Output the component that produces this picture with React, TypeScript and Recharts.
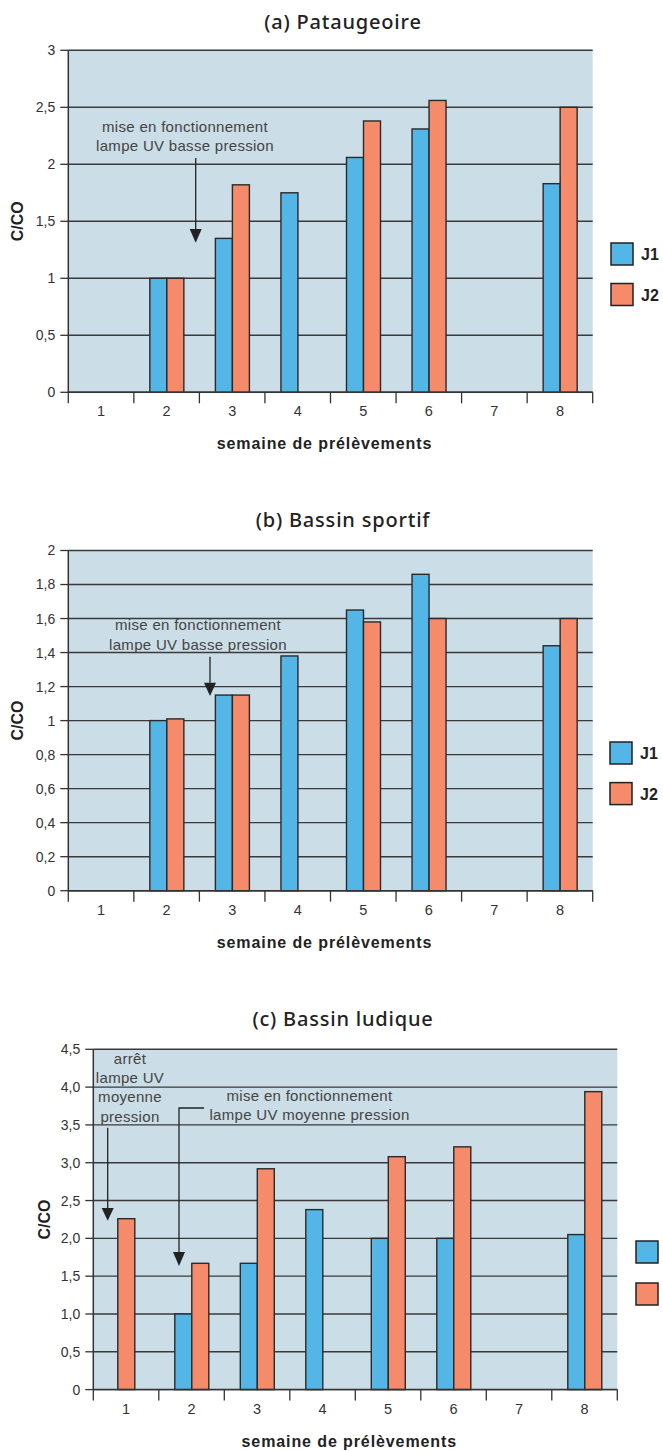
import React from 'react';
import { BarChart, Bar, XAxis, YAxis, CartesianGrid, Legend, Customized } from 'recharts';

// ---------- data ----------
const weeks = ['1', '2', '3', '4', '5', '6', '7', '8'];
const seriesNames = ['J1', 'J2'];
const seriesColors = ['#54b6e6', '#f58b6b'];

const pataugeoireJ1 = [null, 1.0, 1.35, 1.75, 2.06, 2.31, null, 1.83];
const pataugeoireJ2 = [null, 1.0, 1.82, null, 2.38, 2.56, null, 2.5];

const sportifJ1 = [null, 1.0, 1.15, 1.38, 1.65, 1.86, null, 1.44];
const sportifJ2 = [null, 1.01, 1.15, null, 1.58, 1.6, null, 1.6];

const ludiqueJ1 = [null, 1.0, 1.67, 2.38, 2.0, 2.0, null, 2.05];
const ludiqueJ2 = [2.26, 1.67, 2.92, null, 3.08, 3.21, null, 3.94];

const ticksA = [0, 0.5, 1, 1.5, 2, 2.5, 3];
const ticksB = [0, 0.2, 0.4, 0.6, 0.8, 1, 1.2, 1.4, 1.6, 1.8, 2];
const ticksC = [0, 0.5, 1, 1.5, 2, 2.5, 3, 3.5, 4, 4.5];

const titleA = '(a) Pataugeoire';
const titleB = '(b) Bassin sportif';
const titleC = '(c) Bassin ludique';
const xLabel = 'semaine de prélèvements';
const yLabel = 'C/CO';
const noteLow = ['mise en fonctionnement', 'lampe UV basse pression'];
const noteStop = ['arrêt', 'lampe UV', 'moyenne', 'pression'];
const noteMid = ['mise en fonctionnement', 'lampe UV moyenne pression'];

const build = (j1: (number | null)[], j2: (number | null)[]) =>
  weeks.map((w, i) => ({ week: w, [seriesNames[0]]: j1[i], [seriesNames[1]]: j2[i] }));

const dataA = build(pataugeoireJ1, pataugeoireJ2);
const dataB = build(sportifJ1, sportifJ2);
const dataC = build(ludiqueJ1, ludiqueJ2);

const fmtPlain = (v: number) => String(v).replace('.', ',');
const fmtFixed = (v: number) => (v === 0 ? '0' : v.toFixed(1).replace('.', ','));

// ---------- styles ----------
const W = 663;
const XAXIS_H = 40;
const TICK_FONT = '"Liberation Sans", Arial, sans-serif';
const NOTE_FONT = '"Liberation Sans", Arial, sans-serif';
const TITLE_FONT = '"Noto Sans", "Open Sans", sans-serif';
const INK = '#333';
const GRID = '#3a3a3a';
const PLOT_BG = '#cbdde6';
const BAR_STROKE = '#2a2a2a';

// ---------- pieces ----------
function WeekTick(props: any) {
  const { x, y, payload, index, band, count } = props;
  const half = payload && typeof payload.offset === 'number' && payload.offset > 0 ? payload.offset : band / 2;
  return (
    <g>
      <line x1={x - half} x2={x - half} y1={y} y2={y + 11} stroke={INK} strokeWidth={1.3} />
      {index === count - 1 && (
        <line x1={x + half} x2={x + half} y1={y} y2={y + 11} stroke={INK} strokeWidth={1.3} />
      )}
      <text x={x} y={y + 24} textAnchor="middle" fontFamily={TICK_FONT} fontSize={14.5} fill={INK}>
        {payload.value}
      </text>
    </g>
  );
}

const makeShape = (key: string, other: string, fill: string, centerWhenAlone: boolean) => (props: any) => {
  const { x, y, width, height, payload } = props;
  if (!payload || payload[key] == null || !isFinite(height) || !isFinite(y)) return <g />;
  const dx = centerWhenAlone && payload[other] == null ? -width / 2 : 0;
  return (
    <rect x={x + dx} y={y} width={width} height={height} fill={fill} stroke={BAR_STROKE} strokeWidth={1.4} />
  );
};

function LegendBox(props: any) {
  const { payload, step, showText } = props;
  const items = (payload || []).filter((p: any) => p.type !== 'none');
  return (
    <svg width={60} height={step * 2 + 10} style={{ overflow: 'visible', display: 'block' }}>
      {items.map((p: any, i: number) => (
        <g key={p.value}>
          <rect x={1} y={1 + i * step} width={22} height={22} fill={p.color} stroke="#222" strokeWidth={1.5} />
          {showText && (
            <text x={31} y={18 + i * step} fontFamily={TICK_FONT} fontWeight="bold" fontSize={16} fill="#222">
              {p.value}
            </text>
          )}
        </g>
      ))}
    </svg>
  );
}

function ArrowDown({ points, tipY }: { points: [number, number][]; tipY: number }) {
  const last = points[points.length - 1];
  const pts = points.map((p) => p.join(',')).join(' ');
  return (
    <g>
      <polyline points={pts} fill="none" stroke="#222" strokeWidth={1.3} />
      <polygon points={`${last[0] - 6},${last[1]} ${last[0] + 6},${last[1]} ${last[0]},${tipY}`} fill="#222" />
    </g>
  );
}

function NoteLines({ lines, x, y0, step }: { lines: string[]; x: number; y0: number; step: number }) {
  return (
    <g>
      {lines.map((l, i) => (
        <text
          key={i}
          x={x}
          y={y0 + i * step}
          textAnchor="middle"
          fontFamily={NOTE_FONT}
          fontSize={15}
          letterSpacing={0.3}
          fill="#444"
        >
          {l}
        </text>
      ))}
    </g>
  );
}

type PanelCfg = {
  top: number;
  height: number;
  plotLeft: number;
  plotRight: number;
  plotTop: number;
  plotBottom: number;
  data: any[];
  ticks: number[];
  fmt: (v: number) => string;
  title: string;
  titleY: number;
  xLabelY: number;
  yLabelX: number;
  legendLeft: number;
  legendTop: number;
  legendStep: number;
  legendText: boolean;
  notes: React.ReactNode;
};

function Overlay({ c }: { c: PanelCfg }) {
  const cx = (c.plotLeft + c.plotRight) / 2;
  const cy = (c.plotTop + c.plotBottom) / 2;
  return (
    <g>
      <text
        x={343}
        y={c.titleY}
        textAnchor="middle"
        fontFamily={TITLE_FONT}
        fontWeight={500}
        fontSize={20}
        letterSpacing={0.8}
        fill="#222"
      >
        {c.title}
      </text>
      <text
        x={cx - 6}
        y={c.xLabelY}
        textAnchor="middle"
        fontFamily={TICK_FONT}
        fontWeight="bold"
        fontSize={16}
        letterSpacing={0.9}
        fill="#222"
      >
        {xLabel}
      </text>
      <text
        transform={`translate(${c.yLabelX}, ${cy}) rotate(-90)`}
        textAnchor="middle"
        dominantBaseline="central"
        fontFamily={TICK_FONT}
        fontWeight="bold"
        fontSize={16}
        fill="#222"
      >
        {yLabel}
      </text>
      {c.notes}
    </g>
  );
}

function Panel({ c }: { c: PanelCfg }) {
  const margin = {
    top: c.plotTop,
    left: 0,
    right: W - c.plotRight,
    bottom: c.height - c.plotBottom - XAXIS_H,
  };
  const max = c.ticks[c.ticks.length - 1];
  return (
    <div style={{ position: 'absolute', left: 0, top: c.top, width: W, height: c.height }}>
      <BarChart width={W} height={c.height} data={c.data} margin={margin} barGap={0} barSize={17}>
        <CartesianGrid vertical={false} stroke={GRID} strokeWidth={1.4} fill={PLOT_BG} fillOpacity={1} />
        <XAxis
          dataKey="week"
          height={XAXIS_H}
          interval={0}
          tickLine={false}
          tickSize={0}
          tickMargin={0}
          axisLine={{ stroke: INK, strokeWidth: 1.5 }}
          tick={<WeekTick band={(c.plotRight - c.plotLeft) / weeks.length} count={weeks.length} />}
        />
        <YAxis
          width={c.plotLeft}
          domain={[0, max]}
          ticks={c.ticks}
          interval={0}
          tickFormatter={c.fmt}
          tickSize={8}
          tickMargin={5}
          tickLine={{ stroke: INK, strokeWidth: 1.3 }}
          axisLine={{ stroke: INK, strokeWidth: 1.5 }}
          tick={{ fontFamily: TICK_FONT, fontSize: 14, fill: INK }}
        />
        <YAxis
          yAxisId="frame"
          orientation="right"
          width={0}
          domain={[0, 1]}
          tick={false}
          tickLine={false}
          axisLine={{ stroke: '#555', strokeWidth: 1.5 }}
        />
        {seriesNames.map((s, i) => (
          <Bar
            key={s}
            dataKey={s}
            name={s}
            fill={seriesColors[i]}
            isAnimationActive={false}
            shape={makeShape(s, seriesNames[1 - i], seriesColors[i], i === 1)}
          />
        ))}
        <Legend
          layout="horizontal"
          verticalAlign="middle"
          align="center"
          wrapperStyle={{ left: c.legendLeft, top: c.legendTop, width: 60, height: c.legendStep * 2 + 10 }}
          content={(p: any) => <LegendBox payload={p.payload} step={c.legendStep} showText={c.legendText} />}
        />
        <Customized component={<Overlay c={c} />} />
      </BarChart>
    </div>
  );
}

const cfgA: PanelCfg = {
  top: 0,
  height: 470,
  plotLeft: 68.3,
  plotRight: 592.7,
  plotTop: 50.3,
  plotBottom: 392.3,
  data: dataA,
  ticks: ticksA,
  fmt: fmtPlain,
  title: titleA,
  titleY: 29,
  xLabelY: 449,
  yLabelX: 17.5,
  legendLeft: 609.5,
  legendTop: 242,
  legendStep: 40.5,
  legendText: true,
  notes: (
    <g>
      <NoteLines lines={noteLow} x={185} y0={132} step={19} />
      <ArrowDown points={[[195.7, 158], [195.7, 229]]} tipY={242.7} />
    </g>
  ),
};

const cfgB: PanelCfg = {
  top: 490,
  height: 470,
  plotLeft: 68.3,
  plotRight: 592.7,
  plotTop: 60.5,
  plotBottom: 400.7,
  data: dataB,
  ticks: ticksB,
  fmt: fmtPlain,
  title: titleB,
  titleY: 37,
  xLabelY: 458,
  yLabelX: 17.5,
  legendLeft: 609,
  legendTop: 251,
  legendStep: 40.6,
  legendText: true,
  notes: (
    <g>
      <NoteLines lines={noteLow} x={198} y0={140} step={19.5} />
      <ArrowDown points={[[210, 166.7], [210, 192.7]]} tipY={206} />
    </g>
  ),
};

const cfgC: PanelCfg = {
  top: 980,
  height: 471,
  plotLeft: 93.3,
  plotRight: 617.3,
  plotTop: 69.3,
  plotBottom: 409.6,
  data: dataC,
  ticks: ticksC,
  fmt: fmtFixed,
  title: titleC,
  titleY: 46,
  xLabelY: 467,
  yLabelX: 44,
  legendLeft: 634.5,
  legendTop: 259.5,
  legendStep: 42,
  legendText: false,
  notes: (
    <g>
      <NoteLines lines={noteStop} x={130} y0={84} step={19.2} />
      <ArrowDown points={[[107.7, 147.7], [107.7, 228]]} tipY={240.7} />
      <NoteLines lines={noteMid} x={309.5} y0={121} step={19} />
      <ArrowDown points={[[204, 128], [179, 128], [179, 272]]} tipY={286} />
    </g>
  ),
};

export default function App() {
  return (
    <div
      style={{
        position: 'absolute',
        left: 0,
        top: 0,
        width: W,
        height: 1451,
        overflow: 'hidden',
        background: '#fff',
      }}
    >
      <Panel c={cfgA} />
      <Panel c={cfgB} />
      <Panel c={cfgC} />
    </div>
  );
}
